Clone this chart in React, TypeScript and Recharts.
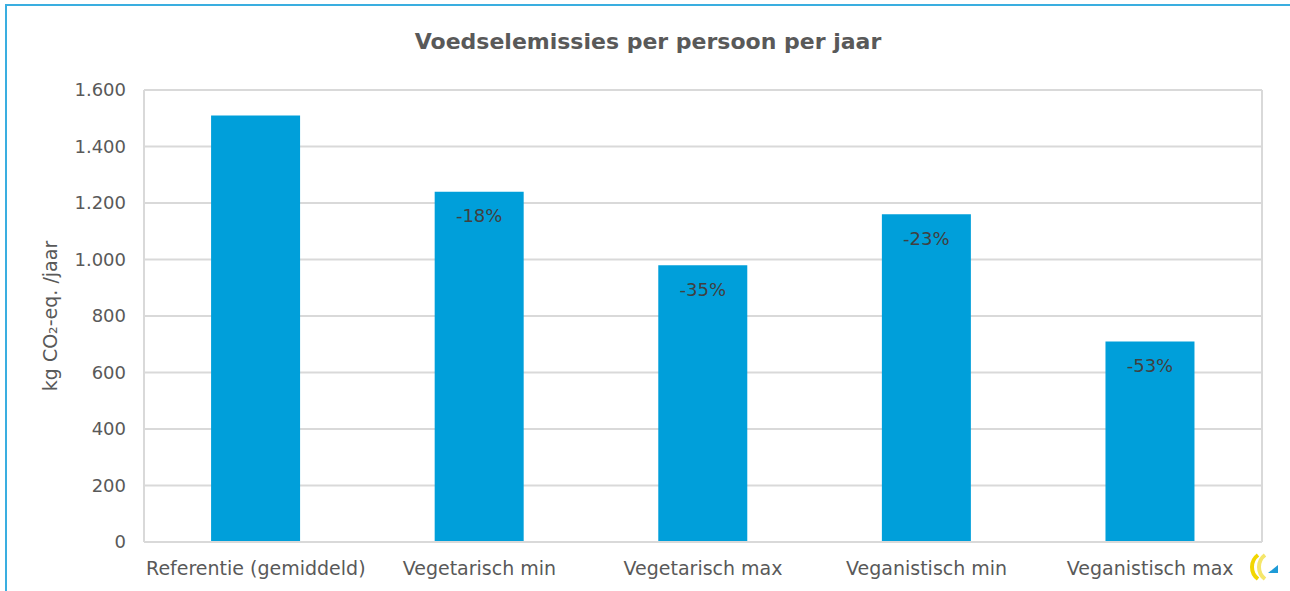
import { BarChart, Bar, XAxis, YAxis, CartesianGrid, LabelList } from "recharts";

const categories = [
  "Referentie (gemiddeld)",
  "Vegetarisch min",
  "Vegetarisch max",
  "Veganistisch min",
  "Veganistisch max",
];
const emissions = [1510, 1240, 980, 1160, 710];
const changeLabels = ["", "-18%", "-35%", "-23%", "-53%"];
const yTicks = [0, 200, 400, 600, 800, 1000, 1200, 1400, 1600];

const data = categories.map((name, i) => ({
  name,
  value: emissions[i],
  change: changeLabels[i],
}));

const font = "'DejaVu Sans', Verdana, sans-serif";
const fmt = (v: number) => v.toLocaleString("nl-NL");

const App = () => {
  return (
    <div style={{ position: "absolute", left: 0, top: 0, width: 1290, height: 591, overflow: "hidden", background: "#fff", fontFamily: font }}>
      <div style={{ position: "absolute", left: 5, top: 4, width: 1300, height: 620, border: "2px solid #3AAEE0" }} />
      <div style={{ position: "absolute", left: 0, top: 29, width: 1296, textAlign: "center", fontSize: 22, fontWeight: "bold", color: "#595959" }}>
        Voedselemissies per persoon per jaar
      </div>
      <div style={{ position: "absolute", left: 0, top: 0 }}>
        <BarChart width={1290} height={591} data={data} margin={{ top: 90, right: 28, bottom: 0, left: 0 }} barCategoryGap="30%">
          <CartesianGrid
            stroke="#D9D9D9"
            strokeWidth={2}
            verticalCoordinatesGenerator={({ offset }: any) => [offset.left, offset.left + offset.width]}
          />
          <XAxis
            dataKey="name"
            axisLine={{ stroke: "#D9D9D9", strokeWidth: 2 }}
            tickLine={false}
            height={49}
            tickMargin={14}
            tick={{ fill: "#595959", fontSize: 19, fontFamily: font }}
          />
          <YAxis
            width={144}
            domain={[0, 1600]}
            ticks={yTicks}
            tickFormatter={fmt}
            axisLine={{ stroke: "#D9D9D9", strokeWidth: 2 }}
            tickLine={false}
            tickSize={0}
            tickMargin={18}
            tick={{ fill: "#595959", fontSize: 18, fontFamily: font }}
            label={{ value: "kg CO₂-eq. /jaar", angle: -90, position: "insideLeft", offset: 50, style: { textAnchor: "middle", fill: "#595959", fontSize: 19, fontFamily: font } }}
          />
          <Bar dataKey="value" fill="#009FDA" isAnimationActive={false}>
            <LabelList dataKey="change" position="insideTop" offset={18} fill="#404040" fontSize={18} fontFamily={font} />
          </Bar>
        </BarChart>
      </div>
      <svg style={{ position: "absolute", left: 1248, top: 553 }} width={34} height={28} viewBox="0 0 34 28">
        <path d="M10 2 C2 8 2 20 10 26" stroke="#F2D600" strokeWidth={4} fill="none" />
        <path d="M17 2 C9 8 9 20 17 26" stroke="#F5E66A" strokeWidth={4} fill="none" />
        <polygon points="20,20 30,12 30,20" fill="#1E9BD7" />
      </svg>
    </div>
  );
};

export default App;
